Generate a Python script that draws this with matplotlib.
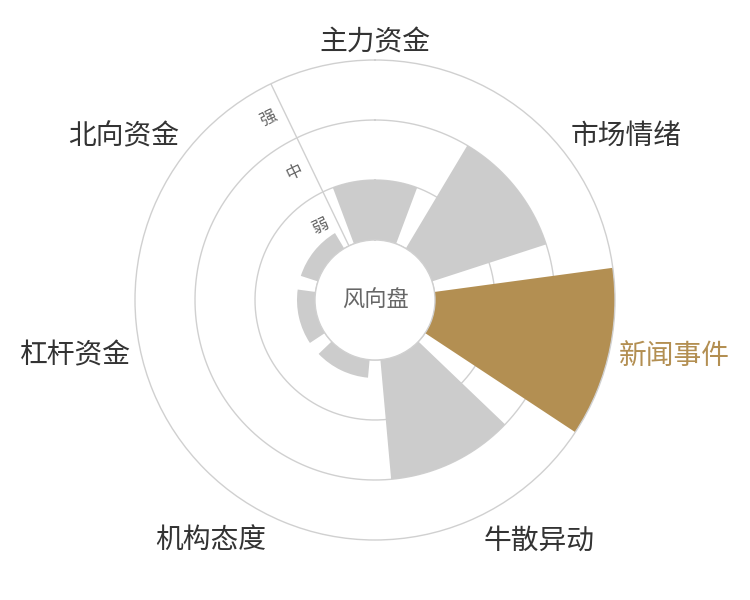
import numpy as np
import matplotlib
matplotlib.use("Agg")
import matplotlib.pyplot as plt

plt.rcParams['font.family'] = ['Noto Sans CJK SC', 'DejaVu Sans']

categories = ['主力资金', '市场情绪', '新闻事件', '牛散异动', '机构态度', '杠杆资金', '北向资金']
values = [1.0, 2.0, 3.0, 2.0, 0.3, 0.3, 0.3]
levels = ['弱', '中', '强']
highlight = '新闻事件'
center_text = '风向盘'

GRAY = '#cccccc'
GOLD = '#b38f52'
GRID = '#d0d0d0'

fig = plt.figure(figsize=(7.5, 6), dpi=100)
ax = fig.add_axes([0.18, 0.10, 0.64, 0.80], projection='polar')
ax.set_theta_zero_location('N')
ax.set_theta_direction(-1)
ax.set_ylim(0, len(levels))
ax.set_rorigin(-1)

n = len(categories)
step = 2 * np.pi / n
thetas = np.arange(n) * step
colors = [GOLD if c == highlight else GRAY for c in categories]
ax.bar(thetas, values, width=step * 0.8, bottom=0, color=colors,
       edgecolor='none', zorder=2)

# grid circles
ax.grid(False)
tt = np.linspace(0, 2 * np.pi, 400)
for r in range(0, len(levels)):
    ax.plot(tt, np.full_like(tt, r), color=GRID, lw=1, zorder=1)
for s in ax.spines.values():
    s.set_color(GRID)
    s.set_linewidth(1)
ax.set_xticks([])
ax.set_yticks([])

# radial axis line (boundary between last and first sector)
ax_theta = -step / 2
ax.plot([ax_theta, ax_theta], [0, len(levels)], color=GRID, lw=1, zorder=1)

# level labels along radial axis
inner_px, band_px = 60.0, 60.0
off_px = 17.0
for i, lab in enumerate(levels):
    rpx = inner_px + band_px * (i + 0.5)
    dth = np.arctan2(off_px, rpx)
    rr = (np.hypot(rpx, off_px) - inner_px) / band_px
    ax.text(ax_theta - dth, rr, lab, fontsize=12, color='#666666',
            rotation=np.degrees(step / 2), rotation_mode='anchor',
            ha='center', va='center', zorder=5)

# category labels
R_lab = (250 - inner_px) / band_px
for th, c in zip(thetas, categories):
    ang = np.pi / 2 - th
    cx, sy = np.cos(ang), np.sin(ang)
    ha = 'left' if cx > 0.1 else ('right' if cx < -0.1 else 'center')
    va = 'baseline' if sy > 0.4 else ('top' if sy < -0.4 else 'center')
    ax.text(th, R_lab, c, fontsize=20,
            color=GOLD if c == highlight else '#333333',
            ha=ha, va=va, clip_on=False)

# center text
fig.text(0.5, 0.5, center_text, fontsize=16, color='#666666',
         ha='center', va='center')

fig.savefig('out.png', dpi=100, facecolor='white')
